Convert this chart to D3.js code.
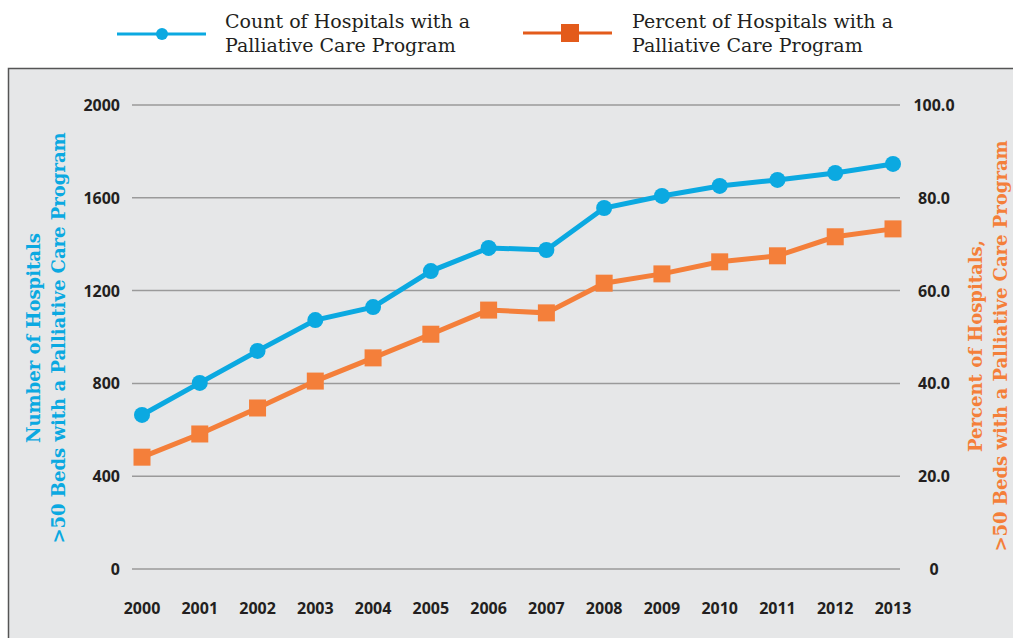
<!DOCTYPE html>
<html>
<head>
<meta charset="utf-8">
<script src="https://cdn.jsdelivr.net/npm/d3@7"></script>
<style>
  body { margin: 0; background: #fff; }
  .tick-label { font-family: "Open Sans", sans-serif; font-weight: 700; font-size: 16px; fill: #231f20; }
  .legend-text { font-family: "DejaVu Serif", serif; font-size: 19px; fill: #231f20; }
  .axis-title { font-family: "DejaVu Serif", serif; font-weight: 700; font-size: 18px; }
</style>
</head>
<body>
<div id="chart"></div>
<script>
// data
const years = [2000, 2001, 2002, 2003, 2004, 2005, 2006, 2007, 2008, 2009, 2010, 2011, 2012, 2013]
const counts = [664, 802, 940, 1073, 1129, 1284, 1384, 1375, 1556, 1608, 1651, 1677, 1707, 1746]
const percents = [24.1, 29.1, 34.7, 40.5, 45.5, 50.6, 55.8, 55.2, 61.6, 63.6, 66.2, 67.5, 71.6, 73.3]
const leftTicks = [0, 400, 800, 1200, 1600, 2000]
const rightTicks = [0, 20, 40, 60, 80, 100]

const width = 1013, height = 638
const blue = "#0ba9e1", orange = "#f47f3a", legendOrange = "#e35b1b"

const svg = d3.select("#chart").append("svg")
  .attr("width", width)
  .attr("height", height)

// gray panel
svg.append("rect")
  .attr("x", 8.5).attr("y", 68.5)
  .attr("width", width).attr("height", height)
  .attr("fill", "#e6e7e8")
  .attr("stroke", "#555").attr("stroke-width", 1.5)

const xScale = d3.scalePoint().domain(years).range([142, 893])
const yLeft = d3.scaleLinear().domain([0, 2000]).range([569, 105])
const yRight = d3.scaleLinear().domain([0, 100]).range([569, 105])

// gridlines
svg.append("g").selectAll("line")
  .data(leftTicks).enter().append("line")
  .attr("x1", 132).attr("x2", 900)
  .attr("y1", d => yLeft(d)).attr("y2", d => yLeft(d))
  .attr("stroke", "#9a9a9a").attr("stroke-width", 1.5)

// left tick labels
svg.append("g").selectAll("text")
  .data(leftTicks).enter().append("text")
  .attr("class", "tick-label")
  .attr("x", 120).attr("y", d => yLeft(d) + 6)
  .attr("text-anchor", "end")
  .text(d => d)

// right tick labels
svg.append("g").selectAll("text")
  .data(rightTicks).enter().append("text")
  .attr("class", "tick-label")
  .attr("x", 934).attr("y", d => yRight(d) + 6)
  .attr("text-anchor", "middle")
  .text(d => d === 0 ? "0" : d3.format(".1f")(d))

// x labels
svg.append("g").selectAll("text")
  .data(years).enter().append("text")
  .attr("class", "tick-label")
  .attr("x", d => xScale(d)).attr("y", 614)
  .attr("text-anchor", "middle")
  .text(d => d)

// axis titles
const leftTitle = svg.append("text")
  .attr("class", "axis-title")
  .attr("transform", "translate(40,338) rotate(-90)")
  .attr("text-anchor", "middle")
  .attr("fill", blue)
leftTitle.append("tspan").attr("x", 0).attr("dy", 0).text("Number of Hospitals")
leftTitle.append("tspan").attr("x", 0).attr("dy", 25).text(">50 Beds with a Palliative Care Program")

const rightTitle = svg.append("text")
  .attr("class", "axis-title")
  .attr("transform", "translate(982,346) rotate(-90)")
  .attr("text-anchor", "middle")
  .attr("fill", orange)
rightTitle.append("tspan").attr("x", 0).attr("dy", 0).text("Percent of Hospitals,")
rightTitle.append("tspan").attr("x", 0).attr("dy", 25).text(">50 Beds with a Palliative Care Program")

// count line
const countLine = d3.line().x((d, i) => xScale(years[i])).y(d => yLeft(d))
svg.append("path")
  .datum(counts)
  .attr("d", countLine)
  .attr("fill", "none").attr("stroke", blue).attr("stroke-width", 5)
svg.append("g").selectAll("circle")
  .data(counts).enter().append("circle")
  .attr("cx", (d, i) => xScale(years[i])).attr("cy", d => yLeft(d))
  .attr("r", 8).attr("fill", blue)

// percent line
const pctLine = d3.line().x((d, i) => xScale(years[i])).y(d => yRight(d))
svg.append("path")
  .datum(percents)
  .attr("d", pctLine)
  .attr("fill", "none").attr("stroke", orange).attr("stroke-width", 5)
svg.append("g").selectAll("rect")
  .data(percents).enter().append("rect")
  .attr("x", (d, i) => xScale(years[i]) - 8.5).attr("y", d => yRight(d) - 8.5)
  .attr("width", 17).attr("height", 17).attr("fill", orange)

// legend
const legend = svg.append("g")
legend.append("line").attr("x1", 117).attr("x2", 206).attr("y1", 34).attr("y2", 34)
  .attr("stroke", blue).attr("stroke-width", 3)
legend.append("circle").attr("cx", 162).attr("cy", 34).attr("r", 6).attr("fill", blue)
const lt1 = legend.append("text").attr("class", "legend-text").attr("x", 225).attr("y", 28)
lt1.append("tspan").attr("x", 225).text("Count of Hospitals with a")
lt1.append("tspan").attr("x", 225).attr("dy", 24).text("Palliative Care Program")

legend.append("line").attr("x1", 523).attr("x2", 612).attr("y1", 33).attr("y2", 33)
  .attr("stroke", legendOrange).attr("stroke-width", 3)
legend.append("rect").attr("x", 561).attr("y", 24).attr("width", 18).attr("height", 18).attr("fill", legendOrange)
const lt2 = legend.append("text").attr("class", "legend-text").attr("x", 632).attr("y", 28)
lt2.append("tspan").attr("x", 632).text("Percent of Hospitals with a")
lt2.append("tspan").attr("x", 632).attr("dy", 24).text("Palliative Care Program")
</script>
</body>
</html>
